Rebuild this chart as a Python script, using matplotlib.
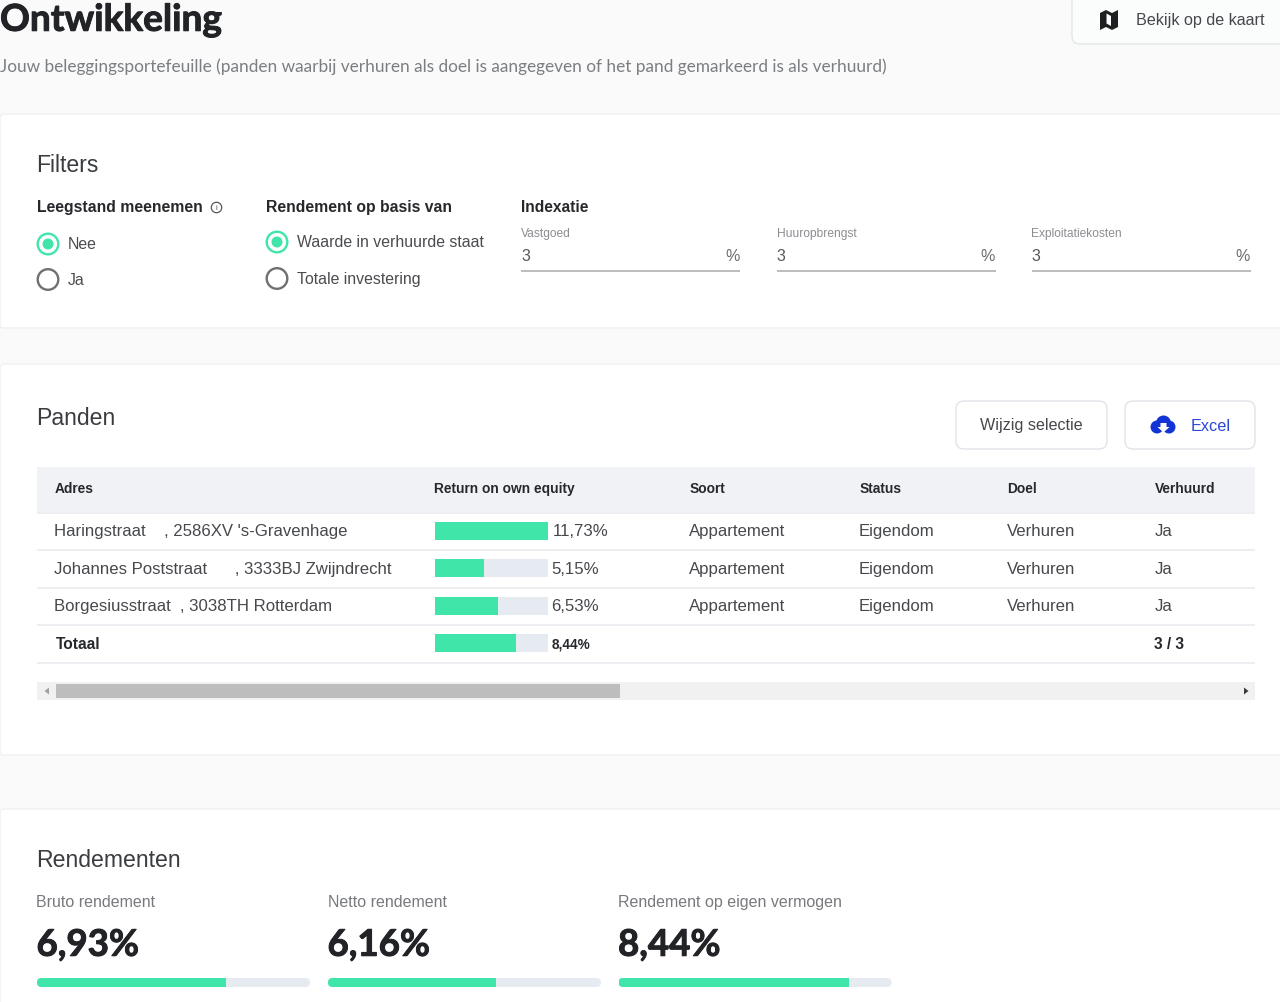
import matplotlib
matplotlib.use("Agg")
import matplotlib.pyplot as plt
import matplotlib.patheffects as pe
from matplotlib.patches import Circle, FancyBboxPatch, Polygon, Rectangle

# data
addresses = ["Haringstraat    , 2586XV 's-Gravenhage",
             "Johannes Poststraat      , 3333BJ Zwijndrecht",
             "Borgesiusstraat  , 3038TH Rotterdam",
             "Totaal"]
roe_values = [11.73, 5.15, 6.53, 8.44]
roe_labels = ["11,73%", "5,15%", "6,53%", "8,44%"]
soort = ["Appartement", "Appartement", "Appartement", ""]
status = ["Eigendom", "Eigendom", "Eigendom", ""]
doel = ["Verhuren", "Verhuren", "Verhuren", ""]
verhuurd = ["Ja", "Ja", "Ja", "3 / 3"]
headers = ["Adres", "Return on own equity", "Soort", "Status", "Doel", "Verhuurd"]
kpi_names = ["Bruto rendement", "Netto rendement", "Rendement op eigen vermogen"]
kpi_values = [6.93, 6.16, 8.44]
kpi_labels = ["6,93%", "6,16%", "8,44%"]
kpi_max = 10
index_names = ["Vastgoed", "Huuropbrengst", "Exploitatiekosten"]
index_values = ["3", "3", "3"]

GREEN = "#40e5a9"
TRACK = "#e6eaf1"
DARK = "#26282b"
W, H = 1280, 1002

plt.rcParams["font.family"] = ["Liberation Sans", "DejaVu Sans"]
fig = plt.figure(figsize=(W / 100, H / 100), dpi=100, facecolor="#fafafa")
ax = fig.add_axes([0, 0, 1, 1])
ax.set_xlim(0, W)
ax.set_ylim(H, 0)
ax.axis("off")


def txt(x, y, s, size, color=DARK, weight="normal", family=None, ha="left", stroke=0):
    kw = {"family": family} if family else {}
    t = ax.text(x, y - 0.7, s, fontsize=size * 0.72, color=color, fontweight=weight, ha=ha,
                va="center_baseline", **kw)
    if stroke:
        t.set_path_effects([pe.withStroke(linewidth=stroke, foreground=color)])


def box(x0, y0, x1, y1, face="white", edge="#eff0f2", r=4, lw=1.0):
    ax.add_patch(FancyBboxPatch((x0 + r, y0 + r), x1 - x0 - 2 * r, y1 - y0 - 2 * r,
                                boxstyle=f"round,pad={r},rounding_size={r}",
                                fc=face, ec=edge, lw=lw))


def radio(x, y, label, selected):
    color = GREEN if selected else "#6d6f72"
    ax.add_patch(Circle((x, y), 10.3, fc="white", ec=color, lw=1.7))
    if selected:
        ax.add_patch(Circle((x, y), 5.5, fc=GREEN, ec="none"))
    txt(x + 20, y, label, 15.9, "#4a4c50")


def bar_axes(x0, y0, x1, y1):
    a = fig.add_axes([x0 / W, 1 - y1 / H, (x1 - x0) / W, (y1 - y0) / H])
    a.axis("off")
    return a


# header
txt(0, 18, "Ontwikkeling", 37, "#212326", "bold", "Lato", stroke=0.7)
txt(0, 66, "Jouw beleggingsportefeuille (panden waarbij verhuren als doel is aangegeven of het pand gemarkeerd is als verhuurd)",
    17.3, "#7b7e82", family="Lato")
box(1072, -8, 1300, 44, "#fbfcfc", "#e3e6ea", 8)
ax.add_patch(Polygon([(1100, 13), (1106, 10), (1112, 13), (1118, 10), (1118, 27),
                      (1112, 30), (1106, 27), (1100, 30)], fc="#1d1f21", ec="none"))
ax.add_patch(Polygon([(1106.5, 13.5), (1111, 16), (1111, 26), (1106.5, 23.5)], fc="#fbfcfc", ec="none"))
txt(1136.5, 19.5, "Bekijk op de kaart", 16.1, "#45474b")

# filters
box(0, 114, 1300, 328)
txt(36.5, 163.5, "Filters", 23, "#3a3c40")
txt(37, 207, "Leegstand meenemen", 15.75, DARK, "bold")
ax.add_patch(Circle((216.5, 207.5), 5.2, fc="white", ec="#55575b", lw=0.9))
txt(216.5, 208, "i", 8, "#55575b", ha="center")
radio(48, 244, "Nee", True)
radio(48, 279.5, "Ja", False)
txt(266, 207, "Rendement op basis van", 15.8, DARK, "bold")
radio(277, 242, "Waarde in verhuurde staat", True)
radio(277, 278.5, "Totale investering", False)
txt(521, 207, "Indexatie", 15.5, DARK, "bold")
for x0, name, value in zip([521, 776.5, 1031.5], index_names, index_values):
    txt(x0, 233.5, name, 12, "#8b8d91")
    txt(x0, 256, value, 16, "#55575b")
    txt(x0 + 218.5, 256, "%", 16, "#6a6c70", ha="right")
    ax.plot([x0, x0 + 219], [270.5, 270.5], color="#b4b6b9", lw=1.3, solid_capstyle="butt")

# panden
box(0, 364, 1300, 755)
txt(36.5, 416.5, "Panden", 23, "#3a3c40")
box(956, 401, 1107, 449, "white", "#e0e3e7", 8)
txt(1031.5, 424.5, "Wijzig selectie", 16.1, "#45474b", ha="center")
box(1125, 401, 1255, 449, "white", "#e0e3e7", 8)
for cx, cy, r in [(1157, 427, 6.5), (1169, 427, 6.5), (1163.5, 423, 7.5)]:
    ax.add_patch(Circle((cx, cy), r, fc="#1234d6", ec="none"))
ax.add_patch(Polygon([(1160.5, 423), (1166.5, 423), (1166.5, 427), (1169.5, 427), (1163.5, 432.5),
                      (1157.5, 427), (1160.5, 427)], fc="white", ec="none"))
txt(1190.5, 425.5, "Excel", 16.3, "#2a48d8")

ax.add_patch(Rectangle((37, 467), 1218, 45, fc="#f1f2f5", ec="none"))
col_x = [54.5, 434.5, 689.5, 860, 1007, 1154.5]
for x0, name in zip(col_x, headers):
    txt(x0, 488.5, name, 13.7, DARK, "bold")

row_y = [530.75, 568.25, 605.75, 643.25]
for y in [512.5, 549.5, 587.5, 625, 662.5]:
    ax.plot([37, 1255], [y, y], color="#e7e9ed", lw=1.1, solid_capstyle="butt")
for i, y in enumerate(row_y):
    total = i == len(row_y) - 1
    weight = "bold" if total else "normal"
    size = 15.5 if total else 16.8
    color = DARK if total else "#46484c"
    txt(54.5 if not total else 55.5, y, addresses[i], size, color, weight)
    txt(551.5 if i else 552.5, y, roe_labels[i], 13.6 if total else 16.8, color, weight)
    txt(688.5, y, soort[i], 16.8, "#46484c")
    txt(859, y, status[i], 16.8, "#46484c")
    txt(1007, y, doel[i], 16.8, "#46484c")
    txt(1154.5, y, verhuurd[i], 15.5 if total else 16.8, color, weight)

ax_roe = bar_axes(434.5, 512, 548, 662)
ax_roe.set_xlim(0, max(roe_values))
ax_roe.set_ylim(len(roe_values) - 0.5, -0.5)
rows = range(len(roe_values))
ax_roe.barh(rows, [max(roe_values)] * len(roe_values), height=0.48, color=TRACK)
ax_roe.barh(rows, roe_values, height=0.48, color=GREEN)

# scrollbar
ax.add_patch(Rectangle((37, 682), 1218, 18, fc="#f1f1f1", ec="none"))
ax.add_patch(Rectangle((56, 684), 564, 14, fc="#bdbdbd", ec="none"))
ax.add_patch(Polygon([(49, 687.5), (49, 694.5), (44.5, 691)], fc="#a0a0a0", ec="none"))
ax.add_patch(Polygon([(1244, 687.5), (1244, 694.5), (1248.5, 691)], fc="#3c3c3c", ec="none"))

# rendementen
box(0, 809, 1300, 1040)
txt(36, 858.5, "Rendementen", 23, "#3a3c40")
for x0, name, value, label in zip([37, 328, 618.5], kpi_names, kpi_values, kpi_labels):
    txt(x0 - 0.5, 901.5, name, 16, "#77797d")
    txt(x0 - 0.5, 943, label, 36.7, "#212326", "bold", "Lato", stroke=0.7)
    a = bar_axes(x0, 978, x0 + 273, 987)
    a.set_xlim(0, kpi_max)
    a.set_ylim(-0.5, 0.5)
    clip = FancyBboxPatch((4.5 / 273, 0.5), 264 / 273, 0.0,
                          boxstyle="round,pad=0.0165,rounding_size=0.0165",
                          transform=a.transAxes, mutation_aspect=30.3, fc="none", ec="none")
    a.add_patch(clip)
    for bars in (a.barh([0], [kpi_max], height=1, color=TRACK), a.barh([0], [value], height=1, color=GREEN)):
        bars[0].set_clip_path(clip)

fig.savefig("out.png", dpi=100, facecolor=fig.get_facecolor())
